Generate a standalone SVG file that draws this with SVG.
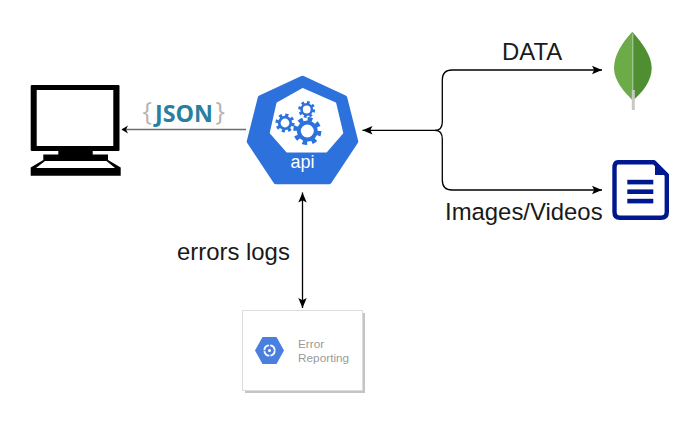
<svg xmlns="http://www.w3.org/2000/svg" width="700" height="425" viewBox="0 0 700 425">
<style>
.sans{font-family:"Liberation Sans",Arial,sans-serif}
.label{font-size:23.9px;fill:#1a1a1a}
.conn{fill:none;stroke:#000;stroke-width:1.3}
.gear-hub{fill:#fff;stroke:#2d72dc}
.gear-teeth{fill:none;stroke:#2d72dc}
.bar{fill:#00188f}
.brace{font-family:"Open Sans",sans-serif;font-size:25px;font-weight:400;fill:#b4b4b4}
</style>
<defs>
<marker id="head" markerUnits="userSpaceOnUse" markerWidth="12" markerHeight="12" refX="10" refY="5" orient="auto-start-reverse" viewBox="0 0 12 10">
<path d="M0 .8 10 5 0 9.2 2.2 5Z" fill="#000"/>
</marker>
</defs>
<rect width="700" height="425" fill="#fff"/>
<g id="connectors">
<path d="M246 129.500H122" fill="none" stroke="#6e6e6e" stroke-width="1.400"/>
<path d="M128 125.500 121.500 129.500 128 133.500 126 129.500Z" fill="#000"/>
<path class="conn" d="M435 130.300H362.500" marker-end="url(#head)"/>
<path class="conn" d="M435 130.300C440 130.300 442.300 127 442.300 122V80Q442.300 70 452 70H602" marker-end="url(#head)"/>
<path class="conn" d="M435 130.300C440 130.300 442.300 134 442.300 139V180Q442.300 190 452 190H602" marker-end="url(#head)"/>
<path class="conn" d="M302.500 192.500V308" marker-start="url(#head)" marker-end="url(#head)"/>
</g>
<g id="client">
<path fill-rule="evenodd" d="M32 85H118.500Q119.500 85 119.500 86V150Q119.500 151 118.500 151H32Q30.700 151 30.700 150V86Q30.700 85 32 85ZM36.700 90V146H113.300V90Z" fill="#000"/>
<rect x="58.300" y="150" width="34.400" height="5" fill="#000"/>
<rect x="43.300" y="154.500" width="64.700" height="6.500" fill="#000"/>
<path d="M43.300 160 30.700 167.500V175.700H120.700V167.500L108 160 106.500 161 115 168H36L45 161Z" fill="#000"/>
</g>
<g id="json">
<text class="brace" x="142.500" y="120">{</text>
<text x="155" y="121.700" font-size="23" font-weight="700" fill="#2a7f9e" textLength="58" lengthAdjust="spacingAndGlyphs" style="font-family:'Open Sans',sans-serif">JSON</text>
<text class="brace" x="215.500" y="120">}</text>
</g>
<g id="api">
<path d="M302.500 78.500 344.500 98 355.500 141.500 329 181.500H276L249.500 141.500 260.500 98Z" fill="#2d72dc" stroke="#2d72dc" stroke-width="5.500" stroke-linejoin="round"/>
<path d="M302.500 88.800 335.500 103.300 342.500 133 326.300 151.800H287L270.500 133 277.200 103.200Z" fill="#fff" stroke="#fff" stroke-width="1.500" stroke-linejoin="round"/>
<circle class="gear-teeth" cx="285" cy="123" r="8" stroke-width="3.200" stroke-dasharray="3.100 3.180"/>
<circle class="gear-hub" cx="285" cy="123" r="5.800" stroke-width="2.800"/>
<circle class="gear-teeth" cx="306.700" cy="109.500" r="7" stroke-width="3" stroke-dasharray="2.750 2.750"/>
<circle class="gear-hub" cx="306.700" cy="109.500" r="5.200" stroke-width="2.600"/>
<circle class="gear-teeth" cx="307.300" cy="131" r="12" stroke-width="4.200" stroke-dasharray="4.700 4.720"/>
<circle class="gear-hub" cx="307.300" cy="131" r="8.500" stroke-width="4"/>
<text class="sans" x="302.500" y="168" font-size="18" fill="#fff" text-anchor="middle">api</text>
</g>
<g id="mongodb">
<path d="M632.300 31.700C622 43 614 55 614 68.300C614 81 625 93 632.300 100Z" fill="#6cac48"/>
<path d="M632.300 31.700C642 43 651.700 55 651.700 68.300C651.700 81 642 93 633.500 100L632.300 100Z" fill="#4f8f32"/>
<path d="M632.800 34V90" stroke="#b5cfa5" stroke-width="1"/>
<path d="M633.300 90V110" stroke="#c8c8c8" stroke-width="3"/>
</g>
<g id="document">
<path d="M618 162.200H654L666.800 175V212Q666.800 217.800 661 217.800H620Q614.500 217.800 614.500 212V168Q614.500 162.200 618 162.200Z" fill="#fff" stroke="#00188f" stroke-width="4.400" stroke-linejoin="round"/>
<path d="M655 162 669 175H655Z" fill="#00188f"/>
<rect class="bar" x="627.300" y="179.800" width="26" height="4.600"/>
<rect class="bar" x="627.300" y="189.400" width="26" height="4.600"/>
<rect class="bar" x="627.300" y="198.800" width="26" height="4.600"/>
</g>
<g id="error-reporting">
<rect x="245" y="313" width="120" height="80" fill="#c4c4c4"/>
<rect x="242.500" y="310.500" width="120" height="80" fill="#fff" stroke="#dcdcdc" stroke-width="1"/>
<path d="M255 350.500 262.500 337H276.500L284 350.500 276.500 364H262.500Z" fill="#4a7fe0"/>
<circle cx="269.500" cy="350.500" r="5.200" fill="none" stroke="#fff" stroke-width="1.800" stroke-dasharray="7 1.200"/>
<circle cx="269.500" cy="350.500" r="1.500" fill="#fff"/>
<text class="sans" x="298" y="348" font-size="11.800" fill="#9a9a9a">Error</text>
<text class="sans" x="298" y="362" font-size="11.800" fill="#9a9a9a">Reporting</text>
</g>
<g id="labels">
<text class="sans label" x="502" y="60">DATA</text>
<text class="sans label" x="445" y="220">Images/Videos</text>
<text class="sans label" x="177" y="260">errors logs</text>
</g>
</svg>
